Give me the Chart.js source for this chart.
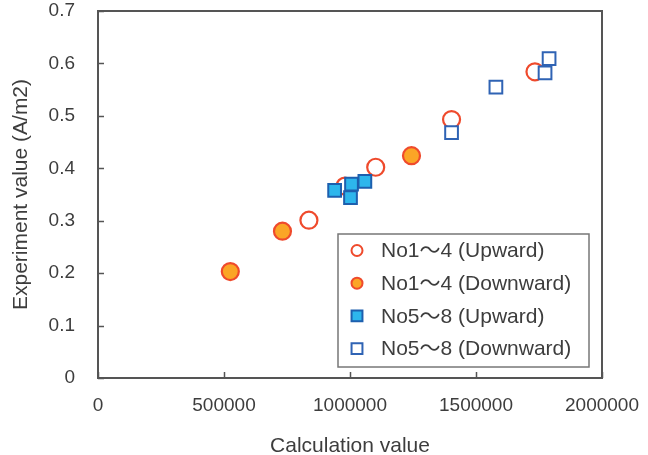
<!DOCTYPE html>
<html><head><meta charset="utf-8">
<script src="https://cdn.jsdelivr.net/npm/chart.js@4/dist/chart.umd.min.js"></script>
<style>html,body{margin:0;padding:0;background:#fff;} #wrap{width:648px;height:455px;}</style>
</head><body><div id="wrap"><canvas id="c" width="648" height="455"></canvas></div>
<script>
const seriesLabels = ['No1〜4 (Upward)', 'No1〜4 (Downward)', 'No5〜8 (Upward)', 'No5〜8 (Downward)'];
const up14X = [837000, 980000, 1102000, 1403000, 1734000];
const up14Y = [0.301, 0.366, 0.402, 0.493, 0.584];
const down14X = [525000, 732000, 1244000];
const down14Y = [0.203, 0.280, 0.424];
const up58X = [939000, 1002000, 1006000, 1059000];
const up58Y = [0.358, 0.344, 0.370, 0.375];
const down58X = [1403000, 1579000, 1774000, 1790000];
const down58Y = [0.468, 0.555, 0.582, 0.609];
const xTicks = [0, 500000, 1000000, 1500000, 2000000];
const yTicks = [0, 0.1, 0.2, 0.3, 0.4, 0.5, 0.6, 0.7];
const xTitle = 'Calculation value';
const yTitle = 'Experiment value (A/m2)';

const pts = (xs, ys) => xs.map((x, i) => ({x: x, y: ys[i]}));
const FONT = "'Liberation Sans', Arial, 'Noto Sans CJK JP', sans-serif";
const TXT = '#3d3d3d';

const styles = [
  {pointStyle: 'circle', pointRadius: 8.5, backgroundColor: '#ffffff', borderColor: '#ef4a2c', pointBorderWidth: 2.2, order: 3, lgR: 5.5},
  {pointStyle: 'circle', pointRadius: 8.5, backgroundColor: '#fba526', borderColor: '#ef4a2c', pointBorderWidth: 2.2, order: 2, lgR: 5.5},
  {pointStyle: 'rect', pointRadius: 9, backgroundColor: '#2db6ec', borderColor: '#1d5fae', pointBorderWidth: 2, order: 0, lgR: 7},
  {pointStyle: 'rect', pointRadius: 9, backgroundColor: '#ffffff', borderColor: '#2f63b4', pointBorderWidth: 2, order: 1, lgR: 7}
];
const dataSets = [pts(up14X, up14Y), pts(down14X, down14Y), pts(up58X, up58Y), pts(down58X, down58Y)];

const frame = {
  id: 'frame',
  beforeDatasetsDraw(chart) {
    const {ctx, chartArea: a, scales: {x, y}} = chart;
    ctx.save();
    ctx.strokeStyle = '#555';
    ctx.lineWidth = 2;
    ctx.strokeRect(a.left, a.top, a.right - a.left, a.bottom - a.top);
    ctx.lineWidth = 1.5;
    ctx.beginPath();
    xTicks.forEach(v => { const px = Math.round(x.getPixelForValue(v)) + 0.5; ctx.moveTo(px, a.bottom); ctx.lineTo(px, a.bottom - 6); });
    yTicks.forEach(v => { const py = Math.round(y.getPixelForValue(v)) + 0.5; ctx.moveTo(a.left, py); ctx.lineTo(a.left + 6, py); });
    ctx.stroke();
    ctx.restore();
  },
  afterDraw(chart) {
    const ctx = chart.ctx;
    const box = {x1: 338, y1: 234, x2: 589, y2: 367, first: 250.5, step: 32.7, mx: 357, tx: 381};
    ctx.save();
    ctx.fillStyle = '#fff';
    ctx.fillRect(box.x1, box.y1, box.x2 - box.x1, box.y2 - box.y1);
    ctx.strokeStyle = '#777';
    ctx.lineWidth = 1.5;
    ctx.strokeRect(box.x1, box.y1, box.x2 - box.x1, box.y2 - box.y1);
    chart.data.datasets.forEach((ds, i) => {
      const cy = box.first + i * box.step;
      const st = styles[i];
      ctx.fillStyle = ds.backgroundColor;
      ctx.strokeStyle = ds.borderColor;
      ctx.lineWidth = 2;
      ctx.beginPath();
      if (st.pointStyle === 'circle') {
        ctx.arc(box.mx, cy, st.lgR, 0, Math.PI * 2);
      } else {
        ctx.rect(box.mx - st.lgR / 1.414 * 1.0 - 0.5, cy - st.lgR / 1.414 - 0.5, st.lgR * 1.414 + 1, st.lgR * 1.414 + 1);
      }
      ctx.fill();
      ctx.stroke();
      ctx.fillStyle = TXT;
      ctx.font = "21px " + FONT;
      ctx.textBaseline = 'middle';
      ctx.textAlign = 'left';
      ctx.fillText(ds.label, box.tx, cy + 1);
    });
    ctx.restore();
  }
};

new Chart(document.getElementById('c'), {
  type: 'scatter',
  data: {
    datasets: dataSets.map((d, i) => ({
      label: seriesLabels[i],
      data: d,
      pointStyle: styles[i].pointStyle,
      pointRadius: styles[i].pointRadius,
      pointHoverRadius: styles[i].pointRadius,
      backgroundColor: styles[i].backgroundColor,
      borderColor: styles[i].borderColor,
      pointBorderWidth: styles[i].pointBorderWidth,
      order: styles[i].order,
      showLine: false
    }))
  },
  options: {
    responsive: false,
    animation: false,
    devicePixelRatio: 1,
    layout: {padding: {left: 0, right: 46, top: 7, bottom: 0}},
    plugins: {legend: {display: false}, tooltip: {enabled: false}},
    scales: {
      x: {
        type: 'linear', min: 0, max: 2000000,
        grid: {display: false, drawTicks: false},
        border: {display: false},
        afterBuildTicks: s => { s.ticks = xTicks.map(v => ({value: v})); },
        afterFit: s => { s.height = 77; s.paddingLeft = 0; s.paddingRight = 0; },
        ticks: {padding: 16, color: TXT, font: {family: FONT, size: 19}, maxRotation: 0, autoSkip: false, callback: v => String(v)},
        title: {display: true, text: xTitle, color: TXT, font: {family: FONT, size: 21, lineHeight: 1}, padding: {top: 0, bottom: -1.5}}
      },
      y: {
        type: 'linear', min: 0, max: 0.7,
        grid: {display: false, drawTicks: false},
        border: {display: false},
        afterBuildTicks: s => { s.ticks = yTicks.map(v => ({value: v})); },
        afterFit: s => { s.width = 98; s.paddingTop = 0; s.paddingBottom = 0; },
        ticks: {padding: 23, color: TXT, font: {family: FONT, size: 19}, autoSkip: false, callback: v => v === 0 ? '0' : v.toFixed(1)},
        title: {display: true, text: yTitle, color: TXT, font: {family: FONT, size: 21, lineHeight: 1}, padding: {top: 10.5, bottom: 0}}
      }
    }
  },
  plugins: [frame]
});
</script></body></html>
